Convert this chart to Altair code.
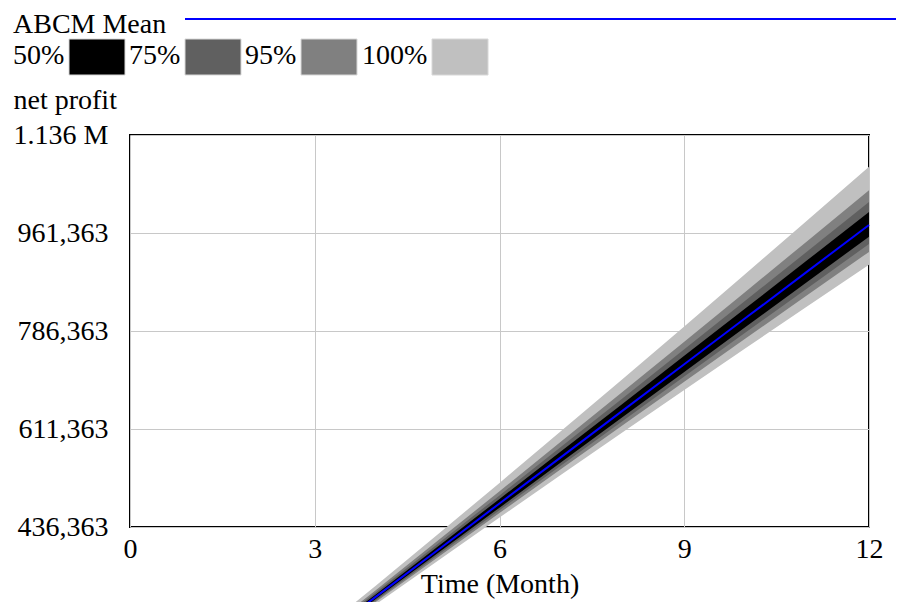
import altair as alt
import pandas as pd

# ---- data ----
months = [3, 4, 5, 6, 7, 8, 9, 10, 11, 12]
mean_profit = [229700, 312500, 395400, 478300, 561200, 644100, 727000, 809900, 892800, 975650]
lo100 = [220800, 298900, 376300, 453200, 529500, 605500, 680800, 755900, 830500, 904650]
lo95 = [223700, 303300, 382500, 461300, 539800, 618000, 695800, 773400, 850700, 927650]
lo75 = [225400, 306000, 386300, 466300, 546000, 625600, 704900, 784000, 862900, 941650]
lo50 = [227100, 308500, 389800, 470900, 551800, 632700, 713300, 793900, 874400, 954650]
hi50 = [232600, 316900, 401600, 486400, 571500, 656600, 742000, 827400, 913000, 998650]
hi75 = [234800, 320400, 406400, 492800, 579500, 666400, 753700, 841100, 928800, 1016650]
hi95 = [237500, 324400, 412100, 500200, 588900, 677800, 767300, 857100, 947200, 1037650]
hi100 = [242700, 332500, 423400, 515100, 607600, 700700, 794600, 889000, 984100, 1079650]

band_labels = ["50%", "75%", "95%", "100%"]
band_colors = ["#000000", "#606060", "#808080", "#c0c0c0"]
mean_label = "ABCM Mean"
y_ticks = [436363, 611363, 786363, 961363, 1136363]
x_ticks = [0, 3, 6, 9, 12]
x_title = "Time (Month)"
y_title = "net profit"

df = pd.DataFrame({
    "month": months, "mean": mean_profit,
    "lo100": lo100, "lo95": lo95, "lo75": lo75, "lo50": lo50,
    "hi50": hi50, "hi75": hi75, "hi95": hi95, "hi100": hi100,
})

# ---- style ----
FONT = "Liberation Serif"
FS = 28
W, H = 739, 392

x_scale = alt.Scale(domain=[0, 12], nice=False, zero=False)
y_scale = alt.Scale(domain=[y_ticks[0], y_ticks[-1]], nice=False, zero=False)

x_axis = alt.Axis(values=x_ticks, grid=True, gridColor="#c8c8c8", domain=False,
                  ticks=False, labelFontSize=FS, labelPadding=8, labelFlush=False,
                  title=x_title, titleFontSize=FS, titleFontWeight="normal",
                  titlePadding=7, labelColor="black", titleColor="black")
y_axis = alt.Axis(values=y_ticks, grid=True, gridColor="#c8c8c8", domain=False,
                  ticks=False, labelFontSize=FS, labelPadding=22, labelFlush=False,
                  labelBaseline="middle",
                  labelExpr="datum.value >= 1000000 ? format(datum.value/1000000, '.3f') + ' M' : format(datum.value, ',')",
                  title=y_title, titleFontSize=FS, titleFontWeight="normal",
                  titleAngle=0, titleAlign="left", titleBaseline="alphabetic",
                  titleX=-117, titleY=-27, labelColor="black", titleColor="black")

X = alt.X("month:Q", scale=x_scale, axis=x_axis)

layers = []
bands = [("lo100", "hi100", band_colors[3]), ("lo95", "hi95", band_colors[2]),
         ("lo75", "hi75", band_colors[1]), ("lo50", "hi50", band_colors[0])]
for lo, hi, col in bands:
    layers.append(
        alt.Chart(df).mark_area(color=col, opacity=1).encode(
            x=X,
            y=alt.Y(f"{lo}:Q", scale=y_scale, axis=y_axis),
            y2=alt.Y2(f"{hi}:Q"),
        )
    )
layers.append(
    alt.Chart(df).mark_line(color="#0000ff", strokeWidth=2).encode(
        x=X, y=alt.Y("mean:Q", scale=y_scale, axis=y_axis)
    )
)

one = alt.Data(values=[{"k": 0}])

def text_at(txt, px, py):
    return alt.Chart(one).mark_text(align="left", baseline="alphabetic", fontSize=FS,
                                    font=FONT, color="black").encode(
        x=alt.value(px), y=alt.value(py), text=alt.value(txt))

# legend: mean line
layers.append(text_at(mean_label, -117, -102))
layers.append(alt.Chart(one).mark_rule(color="#0000ff", strokeWidth=2).encode(
    x=alt.value(55), x2=alt.value(766), y=alt.value(-116)))

# legend: bands
legend_text_x = [-117, -1, 115, 232]
legend_swatch_x = [-61, 55, 171, 302]
for lab, col, tx, sx in zip(band_labels, band_colors, legend_text_x, legend_swatch_x):
    layers.append(text_at(lab, tx, -71))
    layers.append(alt.Chart(one).mark_rect(color=col, stroke="#d8d8d8", strokeWidth=1).encode(
        x=alt.value(sx), x2=alt.value(sx + 56), y=alt.value(-96), y2=alt.value(-60)))

chart = alt.layer(*layers).properties(
    width=W, height=H,
    autosize=alt.AutoSizeParams(type="none"),
    padding={"left": 122, "top": 127, "right": 27, "bottom": 75},
).configure(font=FONT).configure_view(stroke="black", strokeWidth=2).configure_axis(
    labelFont=FONT, titleFont=FONT)

chart.save("out.html", embed_options={"renderer": "svg", "actions": False})
